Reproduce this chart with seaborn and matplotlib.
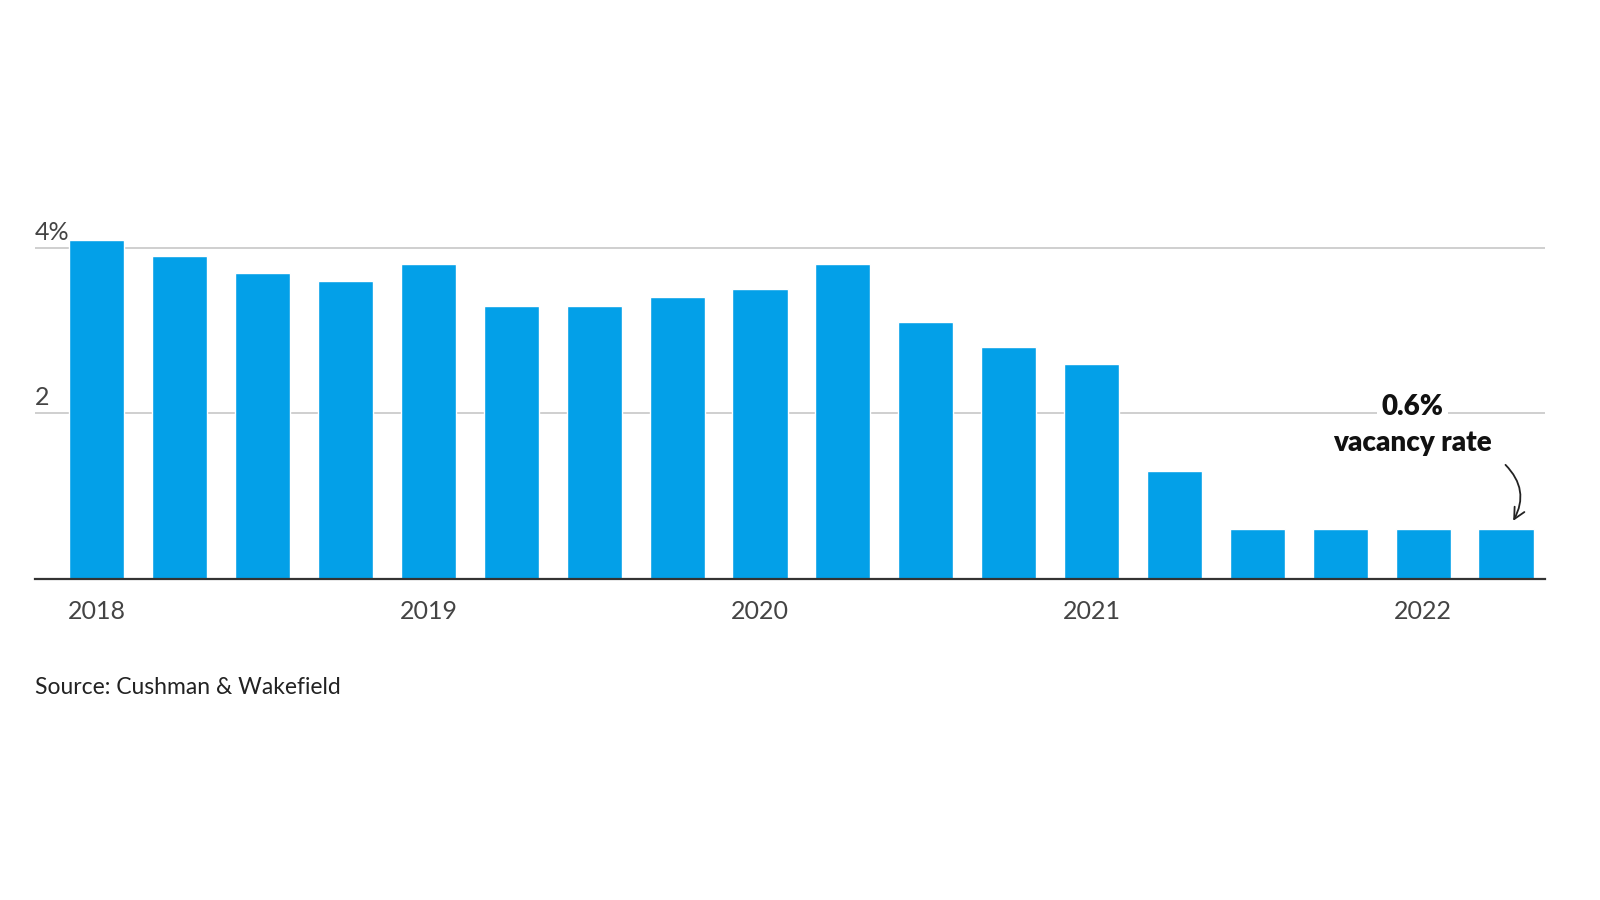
import matplotlib
matplotlib.use("Agg")
import matplotlib.pyplot as plt
import seaborn as sns
import pandas as pd

# --- data ---
quarters = ['2018 Q1', '2018 Q2', '2018 Q3', '2018 Q4',
            '2019 Q1', '2019 Q2', '2019 Q3', '2019 Q4',
            '2020 Q1', '2020 Q2', '2020 Q3', '2020 Q4',
            '2021 Q1', '2021 Q2', '2021 Q3', '2021 Q4',
            '2022 Q1', '2022 Q2']
vacancy = [4.1, 3.9, 3.7, 3.6, 3.8, 3.3, 3.3, 3.4, 3.5,
           3.8, 3.1, 2.8, 2.6, 1.3, 0.6, 0.6, 0.6, 0.6]
year_ticks = ['2018', '2019', '2020', '2021', '2022']
y_ticks = [2, 4]
y_labels = ['2', '4%']

df = pd.DataFrame({'quarter': quarters, 'vacancy': vacancy})

sns.set_theme(style="white")
plt.rcParams['font.family'] = ['Lato', 'DejaVu Sans']

fig = plt.figure(figsize=(16, 9), dpi=100)
ax = fig.add_axes([0.0217, 0.357, 0.9439, 0.386])

sns.barplot(data=df, x='quarter', y='vacancy', order=quarters,
            color='#03a0e8', saturation=1, width=0.665, ax=ax, zorder=3)

ax.set_xlim(-0.75, len(quarters) - 1 + 0.47)
ax.set_ylim(0, 4.2)

# gridlines
ax.set_yticks(y_ticks)
ax.set_yticklabels([])
ax.grid(axis='y', color='#cccccc', linewidth=1.3, zorder=0)
ax.grid(axis='x', visible=False)
ax.set_axisbelow(True)
for yv, lab in zip(y_ticks, y_labels):
    ax.text(0, yv + 0.05, lab, transform=ax.get_yaxis_transform(),
            ha='left', va='bottom', fontsize=18, color='#444444')

# x ticks: years at first quarter
ax.set_xticks([quarters.index(y + ' Q1') for y in year_ticks])
ax.set_xticklabels(year_ticks, fontsize=18, color='#444444')
ax.tick_params(axis='x', length=0, pad=15)
ax.tick_params(axis='y', length=0)
ax.set_xlabel('')
ax.set_ylabel('')

for s in ['top', 'left', 'right']:
    ax.spines[s].set_visible(False)
ax.spines['bottom'].set_color('#333333')
ax.spines['bottom'].set_linewidth(1.6)
ax.spines['bottom'].set_zorder(4)

# annotation
ax.text(15.87, 2.07, '0.6%', ha='center', va='center', fontsize=20,
        fontweight='heavy', color='#111111', zorder=5,
        bbox=dict(facecolor='white', edgecolor='none', pad=3))
ax.text(15.87, 1.64, 'vacancy rate', ha='center', va='center', fontsize=20,
        fontweight='heavy', color='#111111', zorder=5)
ax.annotate('', xy=(17.07, 0.67), xytext=(16.97, 1.40),
            arrowprops=dict(arrowstyle='->', color='#222222', lw=1.3,
                            connectionstyle='arc3,rad=-0.4',
                            mutation_scale=20), zorder=5)

fig.text(0.0217, 0.236, 'Source: Cushman & Wakefield', ha='left', va='center',
         fontsize=16.5, color='#222222')

fig.savefig('out.png', dpi=100, facecolor='white')
